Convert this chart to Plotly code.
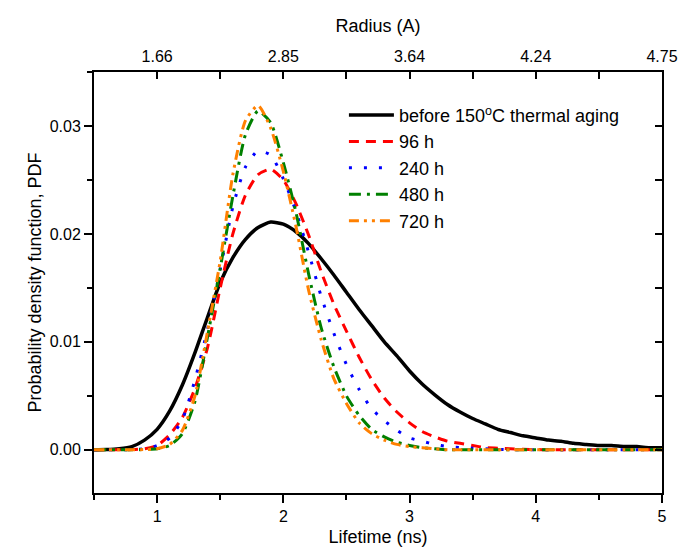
import plotly.graph_objects as go

lifetime = [round(0.5 + 0.1 * i, 1) for i in range(46)]

before = [0.0000, 0.00002, 0.0001, 0.0003, 0.0009, 0.0019, 0.0036, 0.0060, 0.0090, 0.0123,
          0.0155, 0.0178, 0.0195, 0.0206, 0.0211, 0.0209, 0.0202, 0.0191, 0.0177, 0.0162,
          0.0146, 0.0130, 0.0115, 0.0100, 0.0087, 0.0073, 0.0061, 0.0051, 0.0042, 0.0035,
          0.0029, 0.0024, 0.0019, 0.0016, 0.0013, 0.0011, 0.0009, 0.0008, 0.0006, 0.0005,
          0.0004, 0.0004, 0.0003, 0.0003, 0.0002, 0.0002]
h96 = [0.0, 0.0, 0.0, 0.00002, 0.0001, 0.0004, 0.0014, 0.0030, 0.0057, 0.0095,
       0.0150, 0.0200, 0.0236, 0.0255, 0.0260, 0.0250, 0.0228, 0.0199, 0.0165, 0.0135,
       0.0110, 0.0086, 0.0065, 0.0048, 0.0035, 0.0025, 0.0017, 0.0012, 0.0008, 0.0006,
       0.0004, 0.0002, 0.00015, 0.0001, 0.00005, 0.00003, 0.0, 0.0, 0.0, 0.0,
       0.0, 0.0, 0.0, 0.0, 0.0, 0.0]
h240 = [0.0, 0.0, 0.0, 0.00002, 0.0001, 0.0004, 0.0011, 0.0028, 0.0065, 0.0112,
        0.0167, 0.0225, 0.0262, 0.0277, 0.0273, 0.0251, 0.0221, 0.0183, 0.0142, 0.0108,
        0.0079, 0.0056, 0.0038, 0.0027, 0.0018, 0.0011, 0.0008, 0.0005, 0.0003, 0.0002,
        0.00015, 0.0001, 0.00005, 0.0, 0.0, 0.0, 0.0, 0.0, 0.0, 0.0,
        0.0, 0.0, 0.0, 0.0, 0.0, 0.0]
h480 = [0.0, 0.0, 0.0, 0.0, 0.00003, 0.0001, 0.0004, 0.0015, 0.0045, 0.0105,
        0.0168, 0.0235, 0.0292, 0.0314, 0.0303, 0.0266, 0.0220, 0.0163, 0.0113, 0.0077,
        0.0050, 0.0032, 0.0019, 0.0012, 0.0007, 0.0004, 0.0002, 0.0001, 0.0, 0.0,
        0.0, 0.0, 0.0, 0.0, 0.0, 0.0, 0.0, 0.0, 0.0, 0.0,
        0.0, 0.0, 0.0, 0.0, 0.0, 0.0]
h720 = [0.0, 0.0, 0.0, 0.0, 0.00003, 0.0001, 0.0005, 0.0018, 0.0050, 0.0110,
        0.0175, 0.0255, 0.0305, 0.0319, 0.0298, 0.0258, 0.0207, 0.0148, 0.0102, 0.0066,
        0.0043, 0.0025, 0.0015, 0.0009, 0.0005, 0.0003, 0.0002, 0.0001, 0.0, 0.0,
        0.0, 0.0, 0.0, 0.0, 0.0, 0.0, 0.0, 0.0, 0.0, 0.0,
        0.0, 0.0, 0.0, 0.0, 0.0, 0.0]

series_names = ["before 150<sup>o</sup>C thermal aging", "96 h", "240 h", "480 h", "720 h"]
series_values = [before, h96, h240, h480, h720]
colors = ["#000000", "#ff0000", "#0000ff", "#008000", "#ff8000"]
dashes = ["solid", "10px,7px", "3px,12px", "12px,6px,3px,6px", "10px,5px,3px,5px,3px,5px"]
widths = [3.5, 3, 3, 3, 3]

bottom_ticks = [1, 2, 3, 4, 5]
radius_labels = ["1.66", "2.85", "3.64", "4.24", "4.75"]
y_ticks = [0.0, 0.01, 0.02, 0.03]

FONT = "Liberation Sans, Arial, sans-serif"

fig = go.Figure()
for name, vals, c, d, w in zip(series_names, series_values, colors, dashes, widths):
    fig.add_trace(go.Scatter(x=lifetime, y=vals, mode="lines", name=name,
                             line=dict(color=c, dash=d, width=w, shape="spline", smoothing=0.6)))

# invisible trace to activate the top / right axes
fig.add_trace(go.Scatter(x=lifetime, y=before, xaxis="x2", yaxis="y2", mode="lines",
                         line=dict(width=0, color="rgba(0,0,0,0)"), showlegend=False,
                         hoverinfo="skip"))

fig.update_layout(
    width=678, height=550,
    margin=dict(l=94, r=16, t=72, b=57),
    paper_bgcolor="white", plot_bgcolor="white",
    font=dict(family=FONT, size=16, color="black"),
    showlegend=True,
    legend=dict(x=0.44, y=0.941, xanchor="left", yanchor="top",
                bgcolor="rgba(0,0,0,0)", font=dict(size=18, family=FONT),
                tracegroupgap=0, itemwidth=45),
    xaxis=dict(range=[0.5, 5], tickvals=bottom_ticks, ticks="outside", ticklen=8,
               tickwidth=1.5, tickcolor="black", showline=True, linecolor="black",
               linewidth=2, showgrid=False, zeroline=False, automargin=False,
               minor=dict(dtick=0.5, tick0=0.5, ticks="outside", ticklen=5,
                          tickwidth=1.5, tickcolor="black", showgrid=False),
               title=dict(text="Lifetime (ns)", font=dict(size=18), standoff=6),
               tickfont=dict(size=16)),
    xaxis2=dict(range=[0.5, 5], overlaying="x", side="top", tickvals=bottom_ticks,
                ticktext=radius_labels, ticks="inside", ticklen=7, tickwidth=1.5,
                tickcolor="black", showline=True, linecolor="black", linewidth=2,
                showgrid=False, zeroline=False, ticklabelstandoff=2, automargin=False,
                minor=dict(dtick=0.5, tick0=0.5, ticks="inside", ticklen=7,
                           tickwidth=1.5, tickcolor="black", showgrid=False),
                title=dict(text="Radius (A)", font=dict(size=18), standoff=10),
                tickfont=dict(size=16)),
    yaxis=dict(range=[-0.004, 0.035], tickvals=y_ticks, tickformat=".2f",
               ticks="outside", ticklen=8, tickwidth=1.5, tickcolor="black",
               showline=True, linecolor="black", linewidth=2, showgrid=False,
               zeroline=False, automargin=False,
               minor=dict(dtick=0.005, tick0=0, ticks="outside", ticklen=5,
                          tickwidth=1.5, tickcolor="black", showgrid=False),
               title=dict(text="Probability density function, PDF", font=dict(size=18),
                          standoff=3),
               tickfont=dict(size=16)),
    yaxis2=dict(range=[-0.004, 0.035], overlaying="y", side="right", tickvals=y_ticks,
                showticklabels=False, ticks="inside", ticklen=7, tickwidth=1.5,
                tickcolor="black", showline=True, linecolor="black", linewidth=2,
                showgrid=False, zeroline=False, automargin=False,
                minor=dict(dtick=0.005, tick0=0, ticks="inside", ticklen=7,
                           tickwidth=1.5, tickcolor="black", showgrid=False)),
)

fig.write_html("out.html", config={"displayModeBar": False},
               post_script="document.body.style.margin='0';document.body.style.overflow='hidden';")
